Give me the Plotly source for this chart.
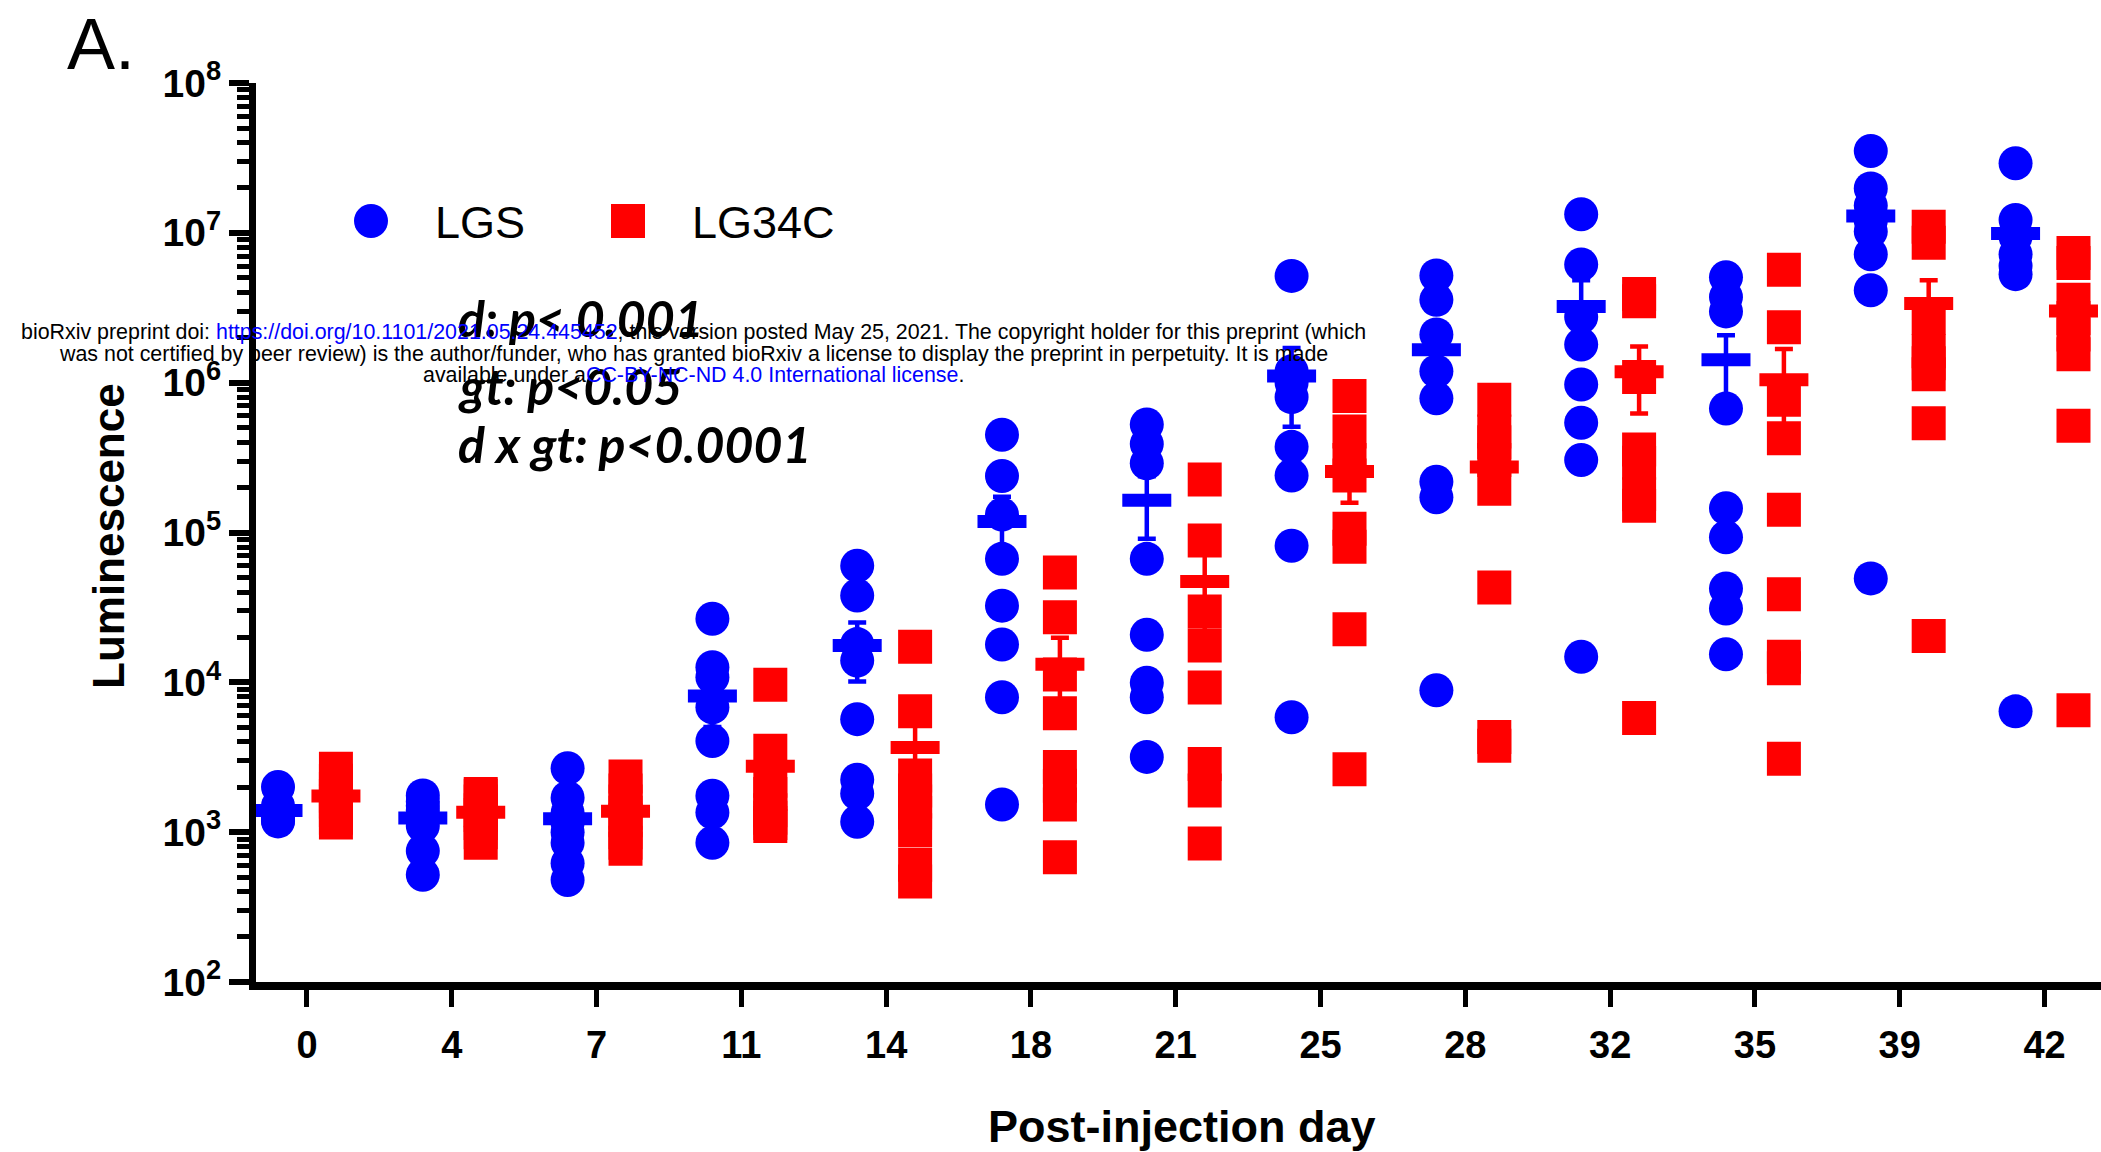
import numpy as np
import plotly.graph_objects as go

# ---------------- data ----------------
days = ["0", "4", "7", "11", "14", "18", "21", "25", "28", "32", "35", "39", "42"]

lgs_values = [
    [2000, 1500, 1400, 1350, 1300, 1250, 1200, 1180],
    [1760, 1600, 1500, 1400, 1300, 1100, 750, 520],
    [2670, 1700, 1350, 1150, 1000, 850, 620, 480],
    [26600, 12600, 10800, 6820, 4060, 1750, 1355, 851],
    [60000, 38000, 18000, 14000, 5680, 2240, 1810, 1175],
    [449000, 238000, 132000, 66700, 32500, 17900, 7950, 1530],
    [526000, 390000, 290000, 66700, 20800, 9940, 7960, 3180],
    [5160000, 1190000, 1000000, 801000, 373000, 240000, 81600, 5850],
    [5200000, 3570000, 2100000, 1190000, 787000, 218000, 172000, 8850],
    [13300000, 6150000, 2740000, 1800000, 973000, 540000, 305000, 14800],
    [5060000, 3730000, 2990000, 672000, 145000, 93000, 42300, 31100, 15400],
    [35200000, 19800000, 15200000, 12000000, 10200000, 7200000, 4140000, 49400],
    [29100000, 12200000, 9400000, 7200000, 6000000, 5300000, 6400],
]

lg34c_values = [
    [2650, 2200, 1950, 1750, 1600, 1400, 1250, 1160],
    [1800, 1750, 1600, 1400, 1300, 1150, 1000, 850],
    [2350, 1900, 1600, 1350, 1200, 1000, 850, 775],
    [9620, 3500, 2200, 1800, 1400, 1250, 1150, 1100],
    [17300, 6400, 2390, 1900, 1600, 1350, 1030, 606, 469],
    [54100, 27200, 11300, 6220, 2720, 2040, 1530, 681],
    [226000, 88300, 29700, 17600, 9250, 2850, 1900, 841],
    [815000, 472000, 305000, 240000, 106000, 80200, 22600, 2630],
    [768000, 472000, 400000, 305000, 196000, 43000, 4320, 3770],
    [3900000, 3500000, 1090000, 358000, 292000, 180000, 151000, 5790],
    [5680000, 2340000, 768000, 426000, 142000, 38700, 14800, 12400, 3090],
    [11000000, 8600000, 2700000, 1620000, 1350000, 1140000, 535000, 20400],
    [7330000, 6300000, 3570000, 2700000, 2100000, 1550000, 516000, 6500],
]

series_names = ["LGS", "LG34C"]
y_tick_powers = [2, 3, 4, 5, 6, 7, 8]
stats_lines = ["d: p< 0.001", "gt: p<0.05", "d x gt: p<0.0001"]

# ---------------- style / layout constants ----------------
W, H = 2101, 1152
L, R, T, B = 256, 2101, 83, 982  # plot area in pixels
BLUE = "#0000ff"
RED = "#ff0000"
OFFSET = 0.2
FONT = "Liberation Sans, Arial, sans-serif"


def px(xp):
    return (xp - L) / (R - L)


def py(yp):
    return (B - yp) / (B - T)


fig = go.Figure()

groups = [
    (series_names[0], lgs_values, -OFFSET, BLUE, "circle"),
    (series_names[1], lg34c_values, OFFSET, RED, "square"),
]

for name, vals, off, color, sym in groups:
    xs, ys = [], []
    for i, v in enumerate(vals):
        xs += [i + off] * len(v)
        ys += list(v)
    fig.add_trace(go.Scatter(
        x=xs, y=ys, mode="markers", name=name, showlegend=False,
        marker=dict(symbol=sym, size=34, color=color, line=dict(width=0)),
    ))

for name, vals, off, color, sym in groups:
    means = [float(np.mean(v)) for v in vals]
    sems = [float(np.std(v, ddof=1) / np.sqrt(len(v))) for v in vals]
    fig.add_trace(go.Scatter(
        x=[i + off for i in range(len(vals))], y=means, mode="markers",
        name=name + " mean", showlegend=False,
        marker=dict(symbol="line-ew", size=35, color=color,
                    line=dict(width=13, color=color)),
        error_y=dict(type="data", array=sems, symmetric=True, color=color,
                     thickness=4.5, width=9),
    ))

fig.update_layout(
    width=W, height=H,
    margin=dict(l=L, r=W - R, t=T, b=H - B, pad=0),
    paper_bgcolor="white", plot_bgcolor="white",
    showlegend=False,
    xaxis=dict(
        range=[-0.352, 12.39], tickmode="array",
        tickvals=list(range(len(days))), ticktext=days,
        ticks="outside", ticklen=17, tickwidth=5, tickcolor="black",
        showline=True, linewidth=8, linecolor="black",
        showgrid=False, zeroline=False, ticklabelstandoff=5,
        tickfont=dict(family=FONT, size=38, color="black", weight=700),
    ),
    yaxis=dict(
        type="log", range=[2, 8], tickmode="array",
        tickvals=[10 ** p for p in y_tick_powers],
        ticktext=["10<sup>%d</sup>" % p for p in y_tick_powers],
        ticks="outside", ticklen=20, tickwidth=6, tickcolor="black",
        showline=True, linewidth=7, linecolor="black",
        showgrid=False, zeroline=False,
        tickfont=dict(family=FONT, size=39, color="black", weight=700),
        minor=dict(ticks="outside", ticklen=12, tickwidth=5,
                   tickcolor="black", dtick="D1", showgrid=False),
    ),
)

ann = []
# axis titles
ann.append(dict(text="<b>Post-injection day</b>", x=px(1182), y=py(1126),
                xref="paper", yref="paper", showarrow=False,
                xanchor="center", yanchor="middle",
                font=dict(family=FONT, size=45, color="black")))
ann.append(dict(text="<b>Luminescence</b>", x=px(108), y=py(536),
                xref="paper", yref="paper", showarrow=False, textangle=-90,
                xanchor="center", yanchor="middle",
                font=dict(family=FONT, size=44, color="black")))
# panel label
ann.append(dict(text="A.", x=px(65), y=py(44), xref="paper", yref="paper",
                showarrow=False, xanchor="left", yanchor="middle",
                font=dict(family=FONT, size=72, color="black")))
# legend texts
ann.append(dict(text=series_names[0], x=px(433), y=py(222), xref="paper",
                yref="paper", showarrow=False, xanchor="left", yanchor="middle",
                font=dict(family=FONT, size=45, color="black")))
ann.append(dict(text=series_names[1], x=px(690), y=py(222), xref="paper",
                yref="paper", showarrow=False, xanchor="left", yanchor="middle",
                font=dict(family=FONT, size=45, color="black")))
# statistics
for line, yp in zip(stats_lines, [318, 386, 444]):
    ann.append(dict(text="<b><i>%s</i></b>" % line, x=px(456), y=py(yp),
                    xref="paper", yref="paper", showarrow=False,
                    xanchor="left", yanchor="middle",
                    font=dict(family="Lato, Open Sans, sans-serif", size=50,
                              color="black")))
# bioRxiv watermark
wm = [
    "bioRxiv preprint doi: <span style='color:#0000ff'>https://doi.org/10.1101/2021.05.24.445452</span>; "
    "this version posted May 25, 2021. The copyright holder for this preprint (which",
    "was not certified by peer review) is the author/funder, who has granted bioRxiv "
    "a license to display the preprint in perpetuity. It is made",
    "available under a<span style='color:#0000ff'>CC-BY-NC-ND 4.0 International license</span>.",
]
for line, yp in zip(wm, [332, 354, 375]):
    ann.append(dict(text=line, x=px(693), y=py(yp), xref="paper", yref="paper",
                    showarrow=False, xanchor="center", yanchor="middle",
                    font=dict(family=FONT, size=21.4, color="black")))

fig.update_layout(annotations=ann)

# legend symbols
fig.add_shape(type="circle", xref="paper", yref="paper",
              x0=px(371 - 17), x1=px(371 + 17), y0=py(221 + 17), y1=py(221 - 17),
              fillcolor=BLUE, line=dict(width=0))
fig.add_shape(type="rect", xref="paper", yref="paper",
              x0=px(628 - 17), x1=px(628 + 17), y0=py(221 + 17), y1=py(221 - 17),
              fillcolor=RED, line=dict(width=0))

fig.write_html("out.html")
